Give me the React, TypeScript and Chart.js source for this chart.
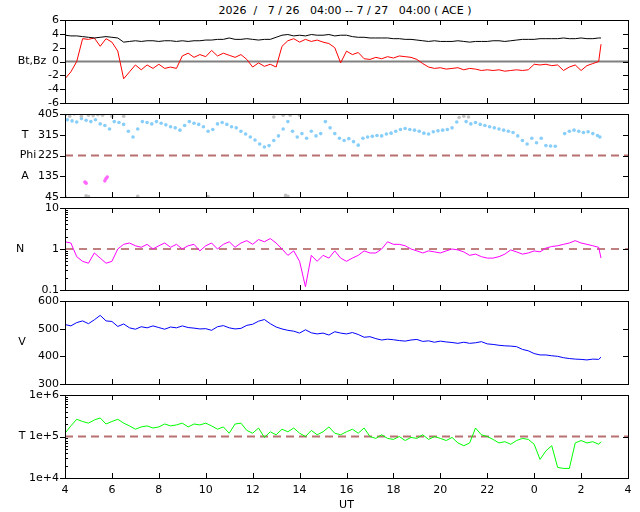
import React, { useEffect, useRef } from "react";
import { Chart, registerables } from "chart.js";
Chart.register(...registerables);

const T0 = 4;
const STEP = 0.25;
const X_TICKS = [4, 6, 8, 10, 12, 14, 16, 18, 20, 22, 24, 26, 28];
const BZ_TICKS = [-6, -4, -2, 0, 2, 4, 6];
const PHI_TICKS = [45, 135, 225, 315, 405];
const N_TICKS = [0.1, 1, 10];
const V_TICKS = [300, 400, 500, 600];
const TEMP_TICKS = [1e4, 1e5, 1e6];

const BT = [3.8,3.7,3.7,3.6,3.5,3.4,3.5,3.6,3.5,3.4,2.8,2.9,3.0,2.9,3.0,3.0,2.9,3.0,3.0,2.9,3.0,2.9,3.0,3.0,
  3.1,3.1,3.2,3.2,3.4,3.2,3.2,3.3,3.2,3.1,3.2,3.2,
  3.5,3.8,3.9,3.7,3.8,3.7,3.9,3.8,3.8,3.9,3.7,3.8,
  3.8,3.6,3.5,3.5,3.4,3.4,3.4,3.4,3.3,3.3,3.2,3.2,
  3.1,3.0,2.9,3.0,2.9,2.9,2.9,3.0,2.9,2.8,2.9,2.9,
  2.9,3.0,3.0,2.9,3.0,3.1,3.2,3.2,3.2,3.3,3.3,3.3,
  3.3,3.4,3.3,3.3,3.4,3.3,3.3,3.4,3.4];
const BZ = [-2.5,-1.5,0,3.3,3.2,3.4,2.2,3.3,2.8,1.5,-2.5,-1.5,-0.5,-1.2,-0.5,-1,-0.4,-1,-0.8,-1,0.8,1.2,0.6,1.0,
  0.7,1.6,0.8,1.2,0.9,0.6,1.0,0.3,-0.8,-0.2,-0.7,-0.4,
  -0.8,2.2,3.0,3.3,2.8,3.2,2.9,3.1,2.8,2.6,2.0,-0.2,
  1.5,1.0,1.3,0.4,0.3,0.6,0.4,0.7,0.5,0.8,0.7,0.6,
  0.3,-0.3,-0.8,-1.0,-0.9,-1.1,-1.0,-0.9,-1.2,-1.0,-1.1,-1.3,
  -1.2,-1.3,-1.2,-1.4,-1.3,-1.2,-1.3,-1.2,-0.4,-0.5,-0.4,-0.6,
  -0.5,-1.3,-0.8,-0.5,-1.3,-0.6,-0.3,0.0,2.5];
const DENS = [1.5,1.4,0.65,0.5,0.45,0.8,0.6,0.45,0.5,1.0,1.3,1.4,1.2,1.1,1.3,1.0,1.2,1.4,1.1,1.3,1.0,1.2,1.3,0.9,
  1.2,1.4,1.0,1.3,1.5,1.1,1.4,1.6,1.3,1.7,1.5,1.8,
  1.4,1.0,0.7,0.9,0.5,0.12,0.7,0.5,0.7,0.6,0.9,0.6,
  0.5,0.6,0.7,0.9,0.8,0.8,1.0,1.5,1.3,1.3,1.2,1.0,
  0.9,0.8,0.9,0.85,0.8,0.9,1.0,0.95,0.85,0.7,0.75,0.65,
  0.6,0.6,0.65,0.75,0.95,0.85,0.75,0.8,0.9,0.85,1.05,1.15,
  1.2,1.3,1.4,1.6,1.4,1.3,1.2,1.1,0.6];
const VEL = [515,510,522,528,518,532,548,528,526,508,517,503,498,507,503,510,504,498,506,503,510,504,502,499,
  500,494,507,511,503,499,501,512,516,527,533,518,
  506,499,494,491,484,496,485,481,484,477,489,484,
  481,486,479,469,471,464,459,462,460,457,455,459,
  461,454,456,451,455,452,450,447,451,447,449,453,
  445,443,440,438,437,435,425,420,410,405,405,402,
  400,395,392,390,389,387,390,389,397];
const TEMP_K = [120,180,260,230,210,250,280,200,230,260,210,180,150,170,180,160,170,200,180,190,210,170,200,190,
  210,180,150,170,120,200,210,140,120,160,95,130,
  110,150,130,160,120,100,140,110,130,170,120,110,
  130,150,120,160,100,90,110,90,85,100,80,95,
  90,110,85,100,90,80,95,70,60,70,160,110,
  100,85,70,75,65,80,90,85,65,28,45,60,
  18,17,17,70,80,70,75,65,75];

const PHI: [number, number][] = [[4.1,380],[4.3,375],[4.5,370],[4.7,385],[4.9,378],[5.1,372],[5.3,380],[5.5,362],[5.7,355],[5.9,340],
  [6.1,372],[6.3,368],[6.5,360],[6.7,330],[6.9,305],[7.1,340],[7.3,372],[7.5,368],[7.7,362],[7.9,372],[8.1,365],[8.3,358],
  [8.5,350],[8.7,345],[8.9,335],[9.1,355],[9.3,372],[9.5,365],[9.7,360],[9.9,350],[10.1,330],[10.3,338],[10.5,362],[10.7,368],
  [10.9,360],[11.1,350],[11.3,345],[11.5,330],[11.7,318],[11.9,305],[12.1,292],[12.3,275],[12.5,262],[12.7,268],[12.9,290],
  [13.1,310],[13.3,340],[13.5,372],[13.7,330],[13.9,305],[14.1,320],[14.3,300],[14.5,330],[14.7,310],[14.9,320],[15.1,372],
  [15.3,345],[15.5,320],[15.7,300],[15.9,290],[16.1,298],[16.3,285],[16.5,270],[16.7,300],[16.9,305],[17.1,308],[17.3,312],
  [17.5,310],[17.7,318],[17.9,322],[18.1,330],[18.3,338],[18.5,342],[18.7,338],[18.9,335],[19.1,330],[19.3,322],[19.5,318],
  [19.7,328],[19.9,332],[20.1,335],[20.3,338],[20.5,345],[20.7,370],[21.1,372],[21.3,362],[21.5,368],[21.7,360],[21.9,355],
  [22.1,350],[22.3,345],[22.5,340],[22.7,335],[22.9,330],[23.1,325],[23.3,310],[23.5,290],[23.7,275],[23.9,300],[24.1,280],
  [24.3,300],[24.5,268],[24.7,266],[24.9,265],[25.3,320],[25.5,330],[25.7,335],[25.9,330],[26.1,325],[26.3,328],[26.5,320],
  [26.7,312],[26.8,305]];
const PHI_GRAY: [number, number][] = [[4.0,400],[4.2,395],[4.4,405],[4.7,395],[5.0,400],[5.2,398],[5.4,402],[5.6,400],[6.0,395],
  [6.5,395],[12.9,392],[13.3,400],[13.6,400],[14.0,400],[20.8,390],[21.0,395],[21.2,392],[4.0,48],[4.9,50],[5.0,47],[7.1,48],
  [10.1,47],[13.4,52],[13.5,48]];
const PHI_MAG: [number, number][] = [[4.85,110],[4.9,105],[5.7,115],[5.75,125],[5.8,132]];

const FONT = "DejaVu Sans";
const series = (vals: number[], scale = 1) =>
  vals.map((v, i) => ({ x: i === vals.length - 1 ? 26.85 : T0 + i * STEP, y: v * scale }));
const pairs = (p: [number, number][]) => p.map(([x, y]) => ({ x, y }));

const framePlugin = {
  id: "frame",
  beforeDatasetsDraw(chart: any, _a: any, opts: any) {
    const { ctx, chartArea: a, scales } = chart;
    (opts.refs || []).forEach((r: any) => {
      const py = scales.y.getPixelForValue(r.y);
      ctx.save();
      ctx.strokeStyle = r.color; ctx.lineWidth = r.width; ctx.setLineDash(r.dash || []);
      ctx.beginPath(); ctx.moveTo(a.left, py); ctx.lineTo(a.right, py); ctx.stroke();
      ctx.restore();
    });
  },
  afterDraw(chart: any, _a: any, opts: any) {
    const { ctx, chartArea: a, scales } = chart;
    const x = scales.x, y = scales.y;
    const yt: number[] = opts.ticks || [];
    ctx.save();
    ctx.strokeStyle = "#000"; ctx.lineWidth = 1;
    ctx.strokeRect(Math.round(a.left) + 0.5, Math.round(a.top) + 0.5, Math.round(a.right - a.left), Math.round(a.bottom - a.top));
    ctx.beginPath();
    X_TICKS.forEach((v) => {
      const px = Math.round(x.getPixelForValue(v)) + 0.5;
      ctx.moveTo(px, a.top); ctx.lineTo(px, a.top + 5);
      ctx.moveTo(px, a.bottom); ctx.lineTo(px, a.bottom - 5);
    });
    yt.forEach((v) => {
      const py = Math.round(y.getPixelForValue(v)) + 0.5;
      ctx.moveTo(a.left - 5, py); ctx.lineTo(a.left, py);
      ctx.moveTo(a.right, py); ctx.lineTo(a.right - 5, py);
    });
    if (opts.minorLog) {
      for (let d = y.min; d < y.max; d *= 10) {
        for (let k = 2; k <= 9; k++) {
          const py = Math.round(y.getPixelForValue(d * k)) + 0.5;
          ctx.moveTo(a.left, py); ctx.lineTo(a.left + 3, py);
        }
      }
    }
    ctx.stroke();
    ctx.fillStyle = "#000";
    ctx.font = `11px ${FONT}`;
    ctx.textBaseline = "middle";
    ctx.textAlign = "right";
    yt.forEach((v) => ctx.fillText(opts.fmt(v), a.left - 6, y.getPixelForValue(v)));
    ctx.textAlign = "center";
    (opts.labels || []).forEach((l: any) => ctx.fillText(l.text, l.x, y.getPixelForValue(l.y)));
    if (opts.ut) {
      X_TICKS.forEach((v) => ctx.fillText(String(v % 24), x.getPixelForValue(v), a.bottom + 12));
      ctx.fillText("UT", (a.left + a.right) / 2, a.bottom + 27);
    }
    ctx.restore();
  },
};
Chart.register(framePlugin);

function Panel(props: { top: number; height: number; bottom?: boolean; make: () => any }) {
  const ref = useRef<HTMLCanvasElement>(null);
  useEffect(() => {
    const cfg = props.make();
    const bottom = !!props.bottom;
    const chart = new Chart(ref.current!, {
      type: "line",
      data: { datasets: cfg.datasets },
      options: {
        responsive: false, animation: false, devicePixelRatio: 1,
        layout: { padding: { left: 65, right: 12, top: 10, bottom: bottom ? 34 : 10 } },
        plugins: { legend: { display: false }, tooltip: { enabled: false }, frame: cfg.frame } as any,
        scales: {
          x: { type: "linear", min: 4, max: 28, display: false },
          y: { ...cfg.y, display: false },
        } as any,
      },
    });
    return () => chart.destroy();
  }, []);
  return (
    <canvas ref={ref} width={640} height={props.height}
      style={{ position: "absolute", left: 0, top: props.top, width: 640, height: props.height }} />
  );
}

const line = (data: any[], color: string) => ({ data, borderColor: color, borderWidth: 1, pointRadius: 0, tension: 0 });
const dots = (data: any[], color: string) => ({ data, showLine: false, pointRadius: 1.8, pointBorderWidth: 0, pointBackgroundColor: color, borderColor: color });
const num = (v: number) => String(v);

export default function App() {
  return (
    <div style={{ position: "absolute", left: 0, top: 0, width: 640, height: 512, background: "#fff" }}>
      <div style={{ position: "absolute", left: 0, width: 690, top: 4, textAlign: "center", font: `11px ${FONT}`, whiteSpace: "pre" }}>
        {"2026  /   7 / 26   04:00 -- 7 / 27   04:00 ( ACE )"}
      </div>
      <Panel top={10} height={103} make={() => ({
        datasets: [line(series(BT), "#000"), line(series(BZ), "#ff0000")],
        y: { min: -6, max: 6 },
        frame: { ticks: BZ_TICKS, fmt: num, labels: [{ text: "Bt,Bz", x: 32, y: 0 }], refs: [{ y: 0, color: "#808080", width: 2 }] },
      })} />
      <Panel top={104} height={103} make={() => ({
        datasets: [dots(pairs(PHI_GRAY), "#c0c0c0"), dots(pairs(PHI_MAG), "#ff66ff"), dots(pairs(PHI), "#87cefa")],
        y: { min: 45, max: 405 },
        frame: { ticks: PHI_TICKS, fmt: num, labels: [{ text: "T", x: 25, y: 315 }, { text: "Phi", x: 28, y: 225 }, { text: "A", x: 25, y: 135 }],
          refs: [{ y: 225, color: "#b87070", width: 2, dash: [8, 5] }] },
      })} />
      <Panel top={198} height={102} make={() => ({
        datasets: [line(series(DENS), "#ff00ff")],
        y: { type: "logarithmic", min: 0.1, max: 10 },
        frame: { ticks: N_TICKS, fmt: num, labels: [{ text: "N", x: 20, y: 1 }], minorLog: true, refs: [{ y: 1, color: "#800000", width: 1, dash: [8, 6] }] },
      })} />
      <Panel top={291} height={103} make={() => ({
        datasets: [line(series(VEL), "#0000ff")],
        y: { min: 300, max: 600 },
        frame: { ticks: V_TICKS, fmt: num, labels: [{ text: "V", x: 22, y: 450 }] },
      })} />
      <Panel top={385} height={127} bottom make={() => ({
        datasets: [line(series(TEMP_K, 1000), "#00ff00")],
        y: { type: "logarithmic", min: 1e4, max: 1e6 },
        frame: { ticks: TEMP_TICKS, fmt: (v: number) => "1e+" + Math.round(Math.log10(v)), labels: [{ text: "T", x: 22, y: 1e5 }], minorLog: true, ut: true,
          refs: [{ y: 1e5, color: "#b87070", width: 2, dash: [8, 5] }] },
      })} />
    </div>
  );
}
